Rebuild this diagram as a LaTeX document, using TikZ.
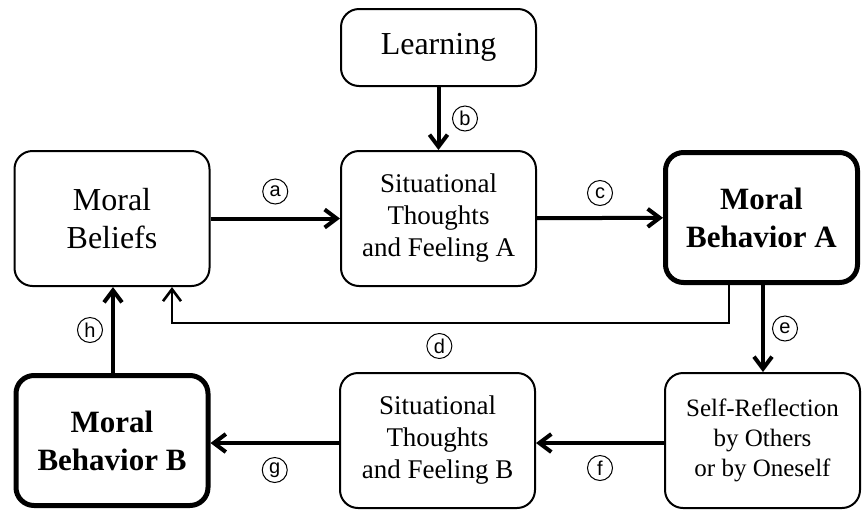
\documentclass[tikz,border=0pt]{standalone}
\usepackage{fontspec}
\setmainfont{Liberation Serif}
\newfontfamily\tagfont{Liberation Sans}
\usetikzlibrary{arrows.meta,positioning}

\begin{document}
\begin{tikzpicture}[x=0.5pt,y=-0.5pt,
    stage/.style={draw,line width=1pt,rounded corners=9pt,align=center,
                  minimum width=97.5pt,minimum height=67.5pt,
                  font=\fontsize{16}{19}\selectfont},
    thoughts/.style={stage,font=\fontsize{13.5}{16}\selectfont},
    reflect/.style={stage,font=\fontsize{12.5}{15}\selectfont},
    behavior/.style={stage,line width=2.5pt,minimum width=96pt,minimum height=65pt,
                     font=\fontsize{15.5}{19}\selectfont\bfseries},
    flow/.style={line width=2pt,-{Straight Barb[length=6pt,width=9pt]}},
    back/.style={line width=1.3pt,-{Straight Barb[length=6pt,width=9pt]}},
    tag/.style={circle,draw,line width=0.5pt,inner sep=0pt,minimum size=12.5pt,
                font=\tagfont\fontsize{10}{10}\selectfont}
  ]
    \useasboundingbox (0,0) rectangle (863,510);
    \node[stage,minimum height=38.5pt] (learn) at (438.5,47.5) {Learning};
    \node[stage] (beliefs) at (112,218.5) {Moral\\Beliefs};
    \node[thoughts] (thinkA) at (438.5,218.5) {Situational\\Thoughts\\and Feeling A};
    \node[behavior] (actA) at (761.5,217.5) {Moral\\Behavior A};
    \node[behavior] (actB) at (112,440.5) {Moral\\Behavior B};
    \node[thoughts] (thinkB) at (437.5,440.5) {Situational\\Thoughts\\and Feeling B};
    \node[reflect] (reflect) at (762.5,440.5) {Self-Reflection\\by Others\\or by Oneself};
    \draw[flow] (beliefs) -- (thinkA) node[midway,above=7pt,tag]{a};
    \draw[flow] (learn) -- (thinkA) node[midway,right=6.75pt,tag]{b};
    \draw[flow] (thinkA) -- (actA) node[midway,above=6pt,tag]{c};
    % feedback from behavior A back to the beliefs
    \draw[back] ([xshift=-16.25pt]actA.south) -- ++(0,38)
      -| ([xshift=30pt]beliefs.south) node[pos=0.26,below=5pt,tag]{d};
    \draw[flow] ([xshift=0.75pt]actA.south) -- ([xshift=0.25pt]reflect.north)
      node[midway,right=4.5pt,tag]{e};
    \draw[flow] ([yshift=-1.25pt]reflect.west) -- ([yshift=-1.25pt]thinkB.east)
      node[midway,below=6pt,tag]{f};
    \draw[flow] ([yshift=-1.25pt]thinkB.west) -- ([yshift=-1.25pt]actB.east)
      node[midway,below=7pt,tag]{g};
    \draw[flow] ([xshift=0.5pt]actB.north) -- ([xshift=0.5pt]beliefs.south)
      node[midway,left=5pt,tag]{h};
  \end{tikzpicture}
\end{document}
